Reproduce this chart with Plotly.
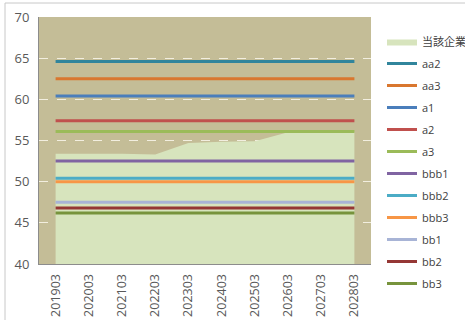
import plotly.graph_objects as go

# Fiscal periods on the category axis
periods = ["201903", "202003", "202103", "202203", "202303",
           "202403", "202503", "202603", "202703", "202803"]

# Company's own ratio (shaded area)
company_name = "当該企業"
company_values = [53.4, 53.4, 53.4, 53.3, 54.7, 54.85, 54.9, 56.0, 56.0, 56.0]

# Rating-band benchmarks (constant across periods)
band_names = ["aa2", "aa3", "a1", "a2", "a3", "bbb1", "bbb2", "bbb3", "bb1", "bb2", "bb3"]
band_levels = [64.6, 62.5, 60.4, 57.4, 56.1, 52.5, 50.4, 50.0, 47.5, 46.8, 46.2]
band_colors = ["#31859c", "#d9772f", "#4a7ebb", "#c0504d", "#9bbb59", "#8064a2",
               "#4bacc6", "#f79646", "#a8b4d6", "#953735", "#77933c"]

y_ticks = [40, 45, 50, 55, 60, 65, 70]

FONT = "Open Sans, Noto Sans CJK JP, sans-serif"

fig = go.Figure()

fig.add_trace(go.Scatter(
    x=periods, y=company_values, name=company_name,
    mode="lines", fill="tozeroy", fillcolor="#d7e4bd",
    line=dict(width=0, color="#d7e4bd"), legendgroup="g0",
))

for i, (name, level, color) in enumerate(zip(band_names, band_levels, band_colors)):
    fig.add_trace(go.Scatter(
        x=periods, y=[level] * len(periods), name=name,
        mode="lines", line=dict(color=color, width=3),
        legendgroup=f"g{i + 1}",
    ))

W, H = 465, 320
ML, MR, MT, MB = 39, 94, 17, 56
pw, ph = W - ML - MR, H - MT - MB

def px_x(v):
    return (v - ML) / pw

def px_y(v):
    return (H - MB - v) / ph

fig.update_layout(
    width=W, height=H,
    margin=dict(l=ML, r=MR, t=MT, b=MB, pad=0, autoexpand=False),
    paper_bgcolor="white",
    plot_bgcolor="#c4bd97",
    font=dict(family=FONT, size=12, color="#595959"),
    showlegend=True,
    legend=dict(
        x=px_x(382), y=px_y(27), xanchor="left", yanchor="top",
        font=dict(family=FONT, size=11, color="#404040"),
        tracegroupgap=3, bgcolor="rgba(0,0,0,0)", maxheight=400,
    ),
    xaxis=dict(
        type="category", range=[-0.5, len(periods) - 0.5],
        tickangle=-90, tickfont=dict(size=12.5),
        showgrid=False, showline=True, linecolor="#8c8c8c", linewidth=1,
        ticks="", ticklabelstandoff=4,
    ),
    yaxis=dict(
        range=[40, 70], tickvals=y_ticks, tickfont=dict(size=13),
        showgrid=True, gridcolor="#f2eedf", griddash="dash", gridwidth=1,
        showline=True, linecolor="#8c8c8c", linewidth=1,
        ticks="", ticklabelstandoff=6, zeroline=False,
    ),
    shapes=[dict(
        type="rect", xref="paper", yref="paper",
        x0=px_x(5), x1=px_x(470), y0=px_y(330), y1=px_y(3),
        line=dict(color="#c8c8c8", width=1), fillcolor="rgba(0,0,0,0)",
        layer="below",
    )],
)

fig.write_html("out.html")
